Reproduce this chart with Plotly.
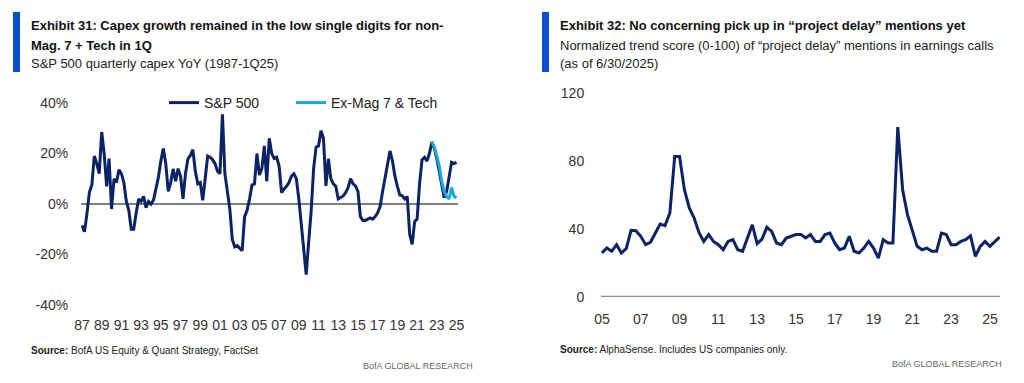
import plotly.graph_objects as go

# ---------------- Data ----------------
# Exhibit 31: S&P 500 quarterly capex YoY (%), 1987Q1 - 2025Q1
sp500_start_year = 1987
sp500_capex_yoy = [
    -8.5, -11, -4, 4.6, 7.5, 19, 16, 12, 28.5, 20,
    7, 18, -2, 10, 8.5, 13.5, 12, 8.5, 1, -2.5,
    -10, -10, -3.5, 2, 1, 3, -1.5, 1, 0, 1.5,
    6, 10.5, 17, 22, 16, 5, 8.5, 13.9, 9, 14,
    11, 2, 12, 17.9, 19.2, 21.5, 13, 8, 8.5, 1.5,
    10, 19, 18.5, 17.5, 16, 13, 12, 35.5, 12, 4.5,
    -2, -14, -17, -16.5, -17.5, -18.5, -5, -2.5, 2, 7.5,
    8, 20, 11.5, 14, 23, 9, 26, 20, 18, 18.5,
    15, 4.5, 6, 7, 8.5, 11, 12, 10, 2, -7.5,
    -17, -28, -15, -3, 14, 22.5, 23, 29, 26, 7.2,
    17.9, 10, 8, 7, 2, 2.5, 3.2, 4.5, 6.5, 10,
    8, 7.2, 5, -5, -6.5, -6.5, -6, -5.5, -6, -5,
    -3.5, -1, 5, 10, 15, 21, 17, 11, 7, 3.5,
    3.2, 2, 3, -12, -16, -7, -6, 8, 17.5, 18.5,
    17, 20, 24.5, 22, 18, 13, 8.5, 2.5, 5, 10,
    16.5, 16, 16.5,
]
# Ex-Mag 7 & Tech, starting 2022Q3
exmag_start_year = 2022.5
exmag_capex_yoy = [24.5, 22.5, 19, 15, 9, 5, 3, 2, 6.5, 3, 2.5]

left_tick_years = list(range(1987, 2026, 2))
left_tick_labels = [f"{y % 100:02d}" for y in left_tick_years]
left_y_ticks = [-40, -20, 0, 20, 40]
left_y_labels = ["-40%", "-20%", "0%", "20%", "40%"]

# Exhibit 32: normalized trend score of "project delay" mentions, quarterly from 2005Q1
delay_start_year = 2005
delay_score = [
    25.9, 28.8, 26.9, 30.8, 25.9, 28.4, 39.2, 39, 35.7, 30.8,
    32.2, 37.6, 42.9, 42, 49.4, 82.7, 82.7, 63.1, 52.4, 46.5,
    38, 32.7, 36.7, 32.7, 30.8, 27.8, 32.7, 33.7, 27.8, 26.9,
    34.7, 42.5, 31.4, 34.1, 41, 38.6, 31.8, 30.8, 34.7, 35.7,
    36.7, 36.7, 34.7, 36.7, 32.7, 32.7, 36.7, 37.6, 31.8, 27.8,
    28.8, 35.7, 26.9, 25.9, 28.8, 32.7, 28.8, 22.9, 33.7, 31.8,
    31.8, 100, 63.1, 48.4, 39.6, 29.8, 27.8, 28.8, 26.9, 26.9,
    37.6, 36.7, 30.8, 30.8, 32.7, 33.7, 36, 23.9, 29.8, 32.7,
    29.8, 32.7, 35.3,
]
right_tick_years = list(range(2005, 2026, 2))
right_tick_labels = [f"{y % 100:02d}" for y in right_tick_years]
right_y_ticks = [0, 40, 80, 120]

# ---------------- Layout helpers ----------------
# The page body has an 8px margin; size the figure to fit inside it.
OFF = 8
W, H = 1024 - 2 * OFF, 383 - 2 * OFF
def px_x(x):
    return (x - OFF) / W
def px_y(y):
    return 1 - (y - OFF) / H

NAVY = "#0B2265"
LIGHT = "#19A7E0"
BAR = "#0A50CC"
TXT = "#222222"
FONT = "Liberation Sans, Arial, sans-serif"

x_sp = [sp500_start_year + 0.25 * k for k in range(len(sp500_capex_yoy))]
x_ex = [exmag_start_year + 0.25 * k for k in range(len(exmag_capex_yoy))]
x_dl = [delay_start_year + 0.25 * k for k in range(len(delay_score))]

fig = go.Figure()
fig.add_trace(go.Scatter(x=x_sp, y=sp500_capex_yoy, mode="lines", name="S&P 500",
                         line=dict(color=NAVY, width=3), xaxis="x", yaxis="y",
                         legend="legend"))
fig.add_trace(go.Scatter(x=x_ex, y=exmag_capex_yoy, mode="lines", name="Ex-Mag 7 & Tech",
                         line=dict(color=LIGHT, width=3), xaxis="x", yaxis="y",
                         legend="legend2"))
fig.add_trace(go.Scatter(x=x_dl, y=delay_score, mode="lines", name="Project delay",
                         line=dict(color=NAVY, width=3), xaxis="x2", yaxis="y2",
                         showlegend=False))

tickfont = dict(family=FONT, size=14, color="#333333")
legfont = dict(family=FONT, size=14, color=TXT)

fig.update_layout(
    width=W, height=H,
    margin=dict(l=0, r=0, t=0, b=0, pad=0, autoexpand=False),
    paper_bgcolor="white", plot_bgcolor="white",
    showlegend=True,
    legend=dict(orientation="h", x=px_x(164), y=px_y(103), xanchor="left", yanchor="middle",
                font=legfont, bgcolor="rgba(0,0,0,0)"),
    legend2=dict(orientation="h", x=px_x(291), y=px_y(103), xanchor="left", yanchor="middle",
                 font=legfont, bgcolor="rgba(0,0,0,0)"),
    xaxis=dict(domain=[px_x(81), px_x(458)], range=[1986.9, 2025.15],
               tickvals=left_tick_years, ticktext=left_tick_labels,
               showgrid=False, zeroline=False, showline=False, automargin=False,
               ticks="outside", ticklen=7, tickcolor="rgba(0,0,0,0)",
               tickfont=tickfont, anchor="y"),
    yaxis=dict(domain=[px_y(305), px_y(103)], range=[-40, 40],
               tickvals=left_y_ticks, ticktext=left_y_labels,
               showgrid=False, zeroline=True, zerolinecolor="#7f7f7f", zerolinewidth=2,
               showline=False, automargin=False,
               ticks="outside", ticklen=9, tickcolor="rgba(0,0,0,0)",
               tickfont=tickfont, anchor="x"),
    xaxis2=dict(domain=[px_x(601), px_x(1000)], range=[2004.95, 2025.52],
                tickvals=right_tick_years, ticktext=right_tick_labels,
                showgrid=False, zeroline=False, showline=False, automargin=False,
                ticks="outside", ticklen=9, tickcolor="rgba(0,0,0,0)",
                tickfont=tickfont, anchor="y2"),
    yaxis2=dict(domain=[px_y(297), px_y(93)], range=[0, 120],
                tickvals=right_y_ticks,
                showgrid=False, zeroline=False, showline=False, automargin=False,
                ticks="outside", ticklen=13, tickcolor="rgba(0,0,0,0)",
                tickfont=tickfont, anchor="x2"),
    shapes=[
        dict(type="rect", xref="paper", yref="paper", x0=px_x(13), x1=px_x(20),
             y0=px_y(72), y1=px_y(12), fillcolor=BAR, line=dict(width=0)),
        dict(type="rect", xref="paper", yref="paper", x0=px_x(542), x1=px_x(549),
             y0=px_y(72), y1=px_y(12), fillcolor=BAR, line=dict(width=0)),
        # right chart zero baseline
        dict(type="line", xref="paper", yref="y2", x0=px_x(601), x1=px_x(1000),
             y0=0, y1=0, line=dict(color="#8c8c8c", width=2.5), layer="below"),
    ],
)

def ann(text, x, y, size, bold=False, color=TXT, xanchor="left"):
    fig.add_annotation(text=(f"<b>{text}</b>" if bold else text), xref="paper", yref="paper",
                       x=px_x(x), y=px_y(y), xanchor=xanchor, yanchor="middle",
                       showarrow=False, font=dict(family=FONT, size=size, color=color))

# Left titles
ann("Exhibit 31: Capex growth remained in the low single digits for non-", 29, 25, 13, bold=True, color="#111111")
ann("Mag. 7 + Tech in 1Q", 29, 45, 13, bold=True, color="#111111")
ann("S&P 500 quarterly capex YoY (1987-1Q25)", 29, 63, 13)
ann("<b>Source:</b> BofA US Equity & Quant Strategy, FactSet", 29, 350, 10)
ann("BofA GLOBAL RESEARCH", 475, 366, 9, color="#666666", xanchor="right")

# Right titles
ann("Exhibit 32: No concerning pick up in “project delay” mentions yet", 558, 25, 13, bold=True, color="#111111")
ann("Normalized trend score (0-100) of “project delay” mentions in earnings calls", 558, 45, 13)
ann("(as of 6/30/2025)", 558, 63, 13)
ann("<b>Source:</b> AlphaSense. Includes US companies only.", 558, 349, 10)
ann("BofA GLOBAL RESEARCH", 1004, 364, 9, color="#666666", xanchor="right")

fig.write_html("out.html")
